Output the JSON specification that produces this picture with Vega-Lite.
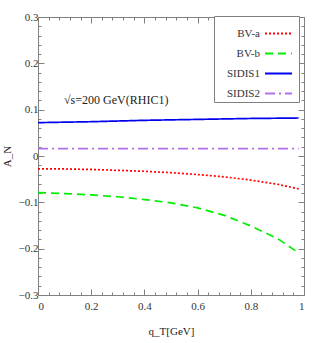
{
  "$schema": "https://vega.github.io/schema/vega-lite/v6.json",
  "width": 266,
  "height": 278,
  "autosize": {"type": "none"},
  "padding": {"left": 38, "top": 17, "right": 18, "bottom": 48},
  "background": "white",
  "config": {
    "view": {"stroke": null},
    "font": "Liberation Serif",
    "axis": {"labelFont": "Liberation Serif", "titleFont": "Liberation Serif", "labelFontSize": 11, "titleFontSize": 11, "labelColor": "#333", "titleColor": "#222", "domainColor": "#808080", "tickColor": "#808080", "grid": false, "titleFontWeight": "normal"}
  },
  "data": {"values": [
    {"model": "BV-a", "qT": 0, "AN": -0.028},
    {"model": "BV-a", "qT": 0.1, "AN": -0.028},
    {"model": "BV-a", "qT": 0.2, "AN": -0.029},
    {"model": "BV-a", "qT": 0.3, "AN": -0.031},
    {"model": "BV-a", "qT": 0.4, "AN": -0.033},
    {"model": "BV-a", "qT": 0.5, "AN": -0.036},
    {"model": "BV-a", "qT": 0.6, "AN": -0.040},
    {"model": "BV-a", "qT": 0.7, "AN": -0.045},
    {"model": "BV-a", "qT": 0.8, "AN": -0.052},
    {"model": "BV-a", "qT": 0.9, "AN": -0.061},
    {"model": "BV-a", "qT": 0.98, "AN": -0.071},
    {"model": "BV-b", "qT": 0, "AN": -0.079},
    {"model": "BV-b", "qT": 0.1, "AN": -0.081},
    {"model": "BV-b", "qT": 0.2, "AN": -0.084},
    {"model": "BV-b", "qT": 0.3, "AN": -0.088},
    {"model": "BV-b", "qT": 0.4, "AN": -0.094},
    {"model": "BV-b", "qT": 0.5, "AN": -0.101},
    {"model": "BV-b", "qT": 0.6, "AN": -0.112},
    {"model": "BV-b", "qT": 0.7, "AN": -0.128},
    {"model": "BV-b", "qT": 0.8, "AN": -0.151},
    {"model": "BV-b", "qT": 0.9, "AN": -0.178},
    {"model": "BV-b", "qT": 0.98, "AN": -0.209},
    {"model": "SIDIS1", "qT": 0, "AN": 0.072},
    {"model": "SIDIS1", "qT": 0.2, "AN": 0.074},
    {"model": "SIDIS1", "qT": 0.4, "AN": 0.077},
    {"model": "SIDIS1", "qT": 0.6, "AN": 0.079},
    {"model": "SIDIS1", "qT": 0.8, "AN": 0.081},
    {"model": "SIDIS1", "qT": 0.98, "AN": 0.082},
    {"model": "SIDIS2", "qT": 0, "AN": 0.016},
    {"model": "SIDIS2", "qT": 0.5, "AN": 0.016},
    {"model": "SIDIS2", "qT": 0.98, "AN": 0.016}
  ]},
  "resolve": {"axis": {"x": "independent", "y": "independent"}},
  "layer": [
    {
      "mark": {"type": "line", "strokeWidth": 1.7, "clip": true},
      "encoding": {
        "x": {"field": "qT", "type": "quantitative", "scale": {"domain": [0, 1], "nice": false},
          "axis": {"orient": "bottom", "values": [0, 0.2, 0.4, 0.6, 0.8, 1], "format": "~g", "tickSize": -6, "labelPadding": 11, "title": "q_T[GeV]", "titlePadding": 14}},
        "y": {"field": "AN", "type": "quantitative", "scale": {"domain": [-0.3, 0.3], "nice": false},
          "axis": {"orient": "left", "values": [-0.3, -0.2, -0.1, 0, 0.1, 0.2, 0.3], "format": "~g", "tickSize": -6, "labelPadding": 6, "title": "A_N", "titlePadding": 6}},
        "color": {"field": "model", "type": "nominal", "title": null,
          "scale": {"domain": ["BV-a", "BV-b", "SIDIS1", "SIDIS2"], "range": ["#ff0000", "#00ee00", "#0000ee", "#b070f0"]},
          "legend": {"orient": "none", "legendX": 176, "legendY": -1, "symbolType": "stroke", "symbolSize": 729, "symbolStrokeWidth": 2, "labelAlign": "right", "labelOffset": -33, "symbolOffset": 47, "labelFont": "Liberation Serif", "labelFontSize": 11, "labelColor": "#333", "strokeColor": "#808080", "fillColor": "white", "padding": 3, "rowPadding": -5}},
        "strokeDash": {"field": "model", "type": "nominal", "title": null,
          "scale": {"domain": ["BV-a", "BV-b", "SIDIS1", "SIDIS2"], "range": [[2, 2], [8, 5], [1, 0], [10, 4, 2, 4]]}}
      }
    },
    {
      "mark": {"type": "line", "opacity": 0},
      "encoding": {
        "x": {"field": "qT", "type": "quantitative", "axis": {"orient": "bottom", "values": [0.04, 0.08, 0.12, 0.16, 0.24, 0.28, 0.32, 0.36, 0.44, 0.48, 0.52, 0.56, 0.64, 0.68, 0.72, 0.76, 0.84, 0.88, 0.92, 0.96], "labels": false, "tickSize": -3, "domain": false, "title": null}},
        "y": {"field": "AN", "type": "quantitative", "axis": {"orient": "left", "values": [-0.28, -0.26, -0.24, -0.22, -0.18, -0.16, -0.14, -0.12, -0.08, -0.06, -0.04, -0.02, 0.02, 0.04, 0.06, 0.08, 0.12, 0.14, 0.16, 0.18, 0.22, 0.24, 0.26, 0.28], "labels": false, "tickSize": -3, "domain": false, "title": null}},
        "detail": {"field": "model"}
      }
    },
    {
      "mark": {"type": "line", "opacity": 0},
      "encoding": {
        "x": {"field": "qT", "type": "quantitative", "axis": {"orient": "top", "values": [0, 0.2, 0.4, 0.6, 0.8, 1], "labels": false, "tickSize": -6, "title": null}},
        "y": {"field": "AN", "type": "quantitative", "axis": {"orient": "right", "values": [-0.3, -0.2, -0.1, 0, 0.1, 0.2, 0.3], "labels": false, "tickSize": -6, "title": null}},
        "detail": {"field": "model"}
      }
    },
    {
      "mark": {"type": "line", "opacity": 0},
      "encoding": {
        "x": {"field": "qT", "type": "quantitative", "axis": {"orient": "top", "values": [0.04, 0.08, 0.12, 0.16, 0.24, 0.28, 0.32, 0.36, 0.44, 0.48, 0.52, 0.56, 0.64, 0.68, 0.72, 0.76, 0.84, 0.88, 0.92, 0.96], "labels": false, "tickSize": -3, "domain": false, "title": null}},
        "y": {"field": "AN", "type": "quantitative", "axis": {"orient": "right", "values": [-0.28, -0.26, -0.24, -0.22, -0.18, -0.16, -0.14, -0.12, -0.08, -0.06, -0.04, -0.02, 0.02, 0.04, 0.06, 0.08, 0.12, 0.14, 0.16, 0.18, 0.22, 0.24, 0.26, 0.28], "labels": false, "tickSize": -3, "domain": false, "title": null}},
        "detail": {"field": "model"}
      }
    },
    {
      "data": {"values": [{"note": "√s=200 GeV(RHIC1)"}]},
      "mark": {"type": "text", "font": "Liberation Serif", "fontSize": 12, "color": "#222"},
      "encoding": {
        "x": {"datum": 0.294, "type": "quantitative", "axis": null},
        "y": {"datum": 0.121, "type": "quantitative", "axis": null},
        "text": {"field": "note"}
      }
    }
  ]
}
